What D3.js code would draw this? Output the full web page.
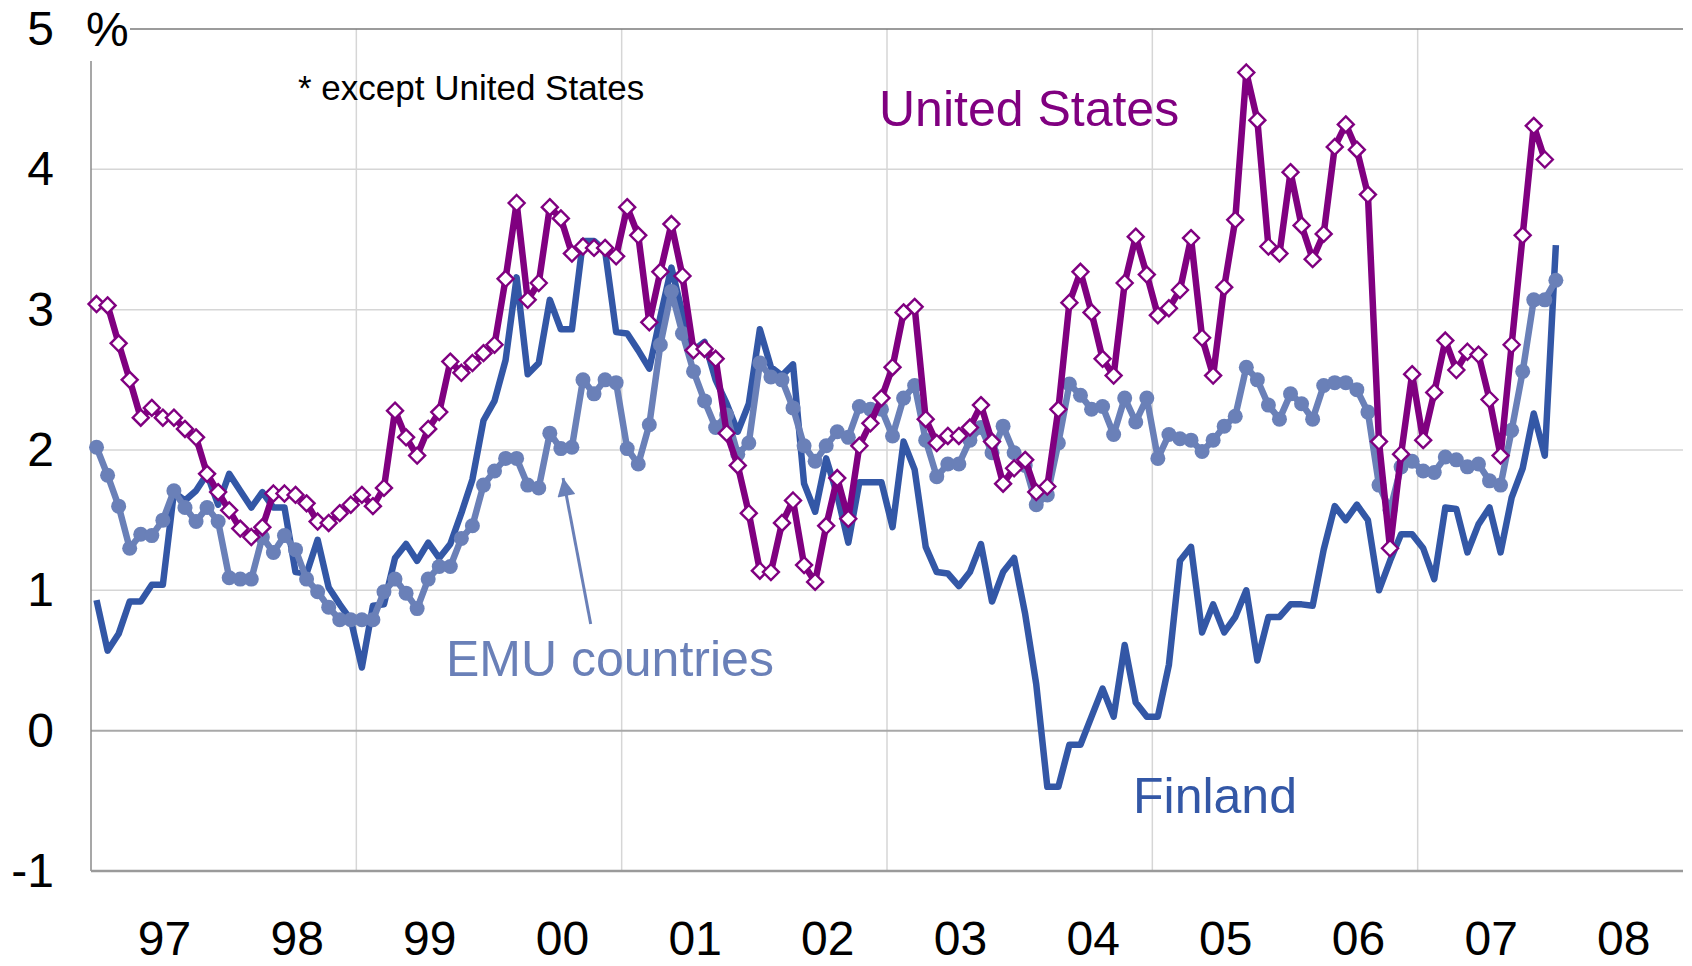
<!DOCTYPE html>
<html>
<head>
<meta charset="utf-8">
<script src="https://cdn.jsdelivr.net/npm/d3@7"></script>
<style>
  html, body { margin: 0; padding: 0; background: #fff; }
  svg { display: block; font-family: "Liberation Sans", Arial, sans-serif; }
</style>
</head>
<body>
<svg id="chart" width="1692" height="966"></svg>
<script>
// Monthly values, first one is January 1997
var yearLabels = ["97", "98", "99", "00", "01", "02", "03", "04", "05", "06", "07", "08"];
var yTicks = [-1, 0, 1, 2, 3, 4, 5];

var usValues = [
  3.04, 3.03, 2.76, 2.50, 2.23, 2.30, 2.23, 2.23, 2.15, 2.09, 1.83, 1.70,
  1.57, 1.44, 1.38, 1.45, 1.69, 1.69, 1.68, 1.62, 1.49, 1.48, 1.55, 1.61,
  1.68, 1.60, 1.73, 2.28, 2.09, 1.96, 2.15, 2.27, 2.63, 2.55, 2.62, 2.69,
  2.75, 3.22, 3.76, 3.07, 3.19, 3.73, 3.65, 3.40, 3.45, 3.44, 3.44, 3.38,
  3.73, 3.53, 2.91, 3.27, 3.61, 3.24, 2.71, 2.72, 2.65, 2.12, 1.89, 1.55,
  1.14, 1.13, 1.48, 1.64, 1.18, 1.06, 1.46, 1.80, 1.51, 2.03, 2.19, 2.37,
  2.59, 2.98, 3.02, 2.22, 2.05, 2.10, 2.10, 2.16, 2.32, 2.06, 1.76, 1.87,
  1.93, 1.70, 1.74, 2.29, 3.05, 3.27, 2.98, 2.65, 2.53, 3.19, 3.52, 3.25,
  2.96, 3.01, 3.14, 3.51, 2.80, 2.53, 3.16, 3.64, 4.69, 4.35, 3.45, 3.40,
  3.98, 3.60, 3.36, 3.54, 4.16, 4.32, 4.14, 3.82, 2.06, 1.30, 1.97, 2.54,
  2.07, 2.41, 2.78, 2.57, 2.70, 2.68, 2.36, 1.96, 2.75, 3.53, 4.31, 4.07
];

var emuValues = [
  2.02, 1.82, 1.60, 1.30, 1.40, 1.39, 1.50, 1.71, 1.59, 1.49, 1.59, 1.49,
  1.09, 1.08, 1.08, 1.38, 1.27, 1.39, 1.29, 1.08, 0.99, 0.88, 0.79, 0.79,
  0.79, 0.79, 0.99, 1.08, 0.98, 0.87, 1.08, 1.17, 1.17, 1.37, 1.46, 1.75,
  1.85, 1.94, 1.94, 1.75, 1.73, 2.12, 2.01, 2.02, 2.50, 2.40, 2.50, 2.48,
  2.01, 1.90, 2.18, 2.75, 3.13, 2.83, 2.56, 2.35, 2.16, 2.25, 1.97, 2.05,
  2.62, 2.52, 2.50, 2.30, 2.03, 1.92, 2.03, 2.13, 2.09, 2.31, 2.29, 2.29,
  2.10, 2.37, 2.46, 2.07, 1.81, 1.90, 1.90, 2.07, 2.16, 1.98, 2.17, 1.98,
  1.89, 1.61, 1.68, 2.05, 2.47, 2.39, 2.29, 2.31, 2.11, 2.37, 2.20, 2.37,
  1.94, 2.11, 2.08, 2.07, 1.99, 2.07, 2.17, 2.24, 2.59, 2.50, 2.32, 2.22,
  2.40, 2.33, 2.22, 2.46, 2.48, 2.48, 2.43, 2.27, 1.75, 1.57, 1.88, 1.92,
  1.85, 1.84, 1.95, 1.93, 1.88, 1.90, 1.78, 1.75, 2.14, 2.56, 3.07, 3.07,
  3.21
];

var finlandValues = [
  0.93, 0.57, 0.69, 0.92, 0.92, 1.04, 1.04, 1.70, 1.64, 1.71, 1.83, 1.61,
  1.83, 1.71, 1.59, 1.70, 1.59, 1.59, 1.13, 1.12, 1.36, 1.02, 0.90, 0.79,
  0.45, 0.89, 0.90, 1.23, 1.33, 1.21, 1.34, 1.23, 1.33, 1.55, 1.79, 2.21,
  2.35, 2.64, 3.23, 2.54, 2.62, 3.07, 2.86, 2.86, 3.49, 3.49, 3.42, 2.84,
  2.83, 2.71, 2.58, 2.95, 3.30, 2.97, 2.71, 2.77, 2.50, 2.33, 2.13, 2.33,
  2.86, 2.59, 2.53, 2.61, 1.76, 1.56, 1.94, 1.68, 1.34, 1.77, 1.77, 1.77,
  1.45, 2.06, 1.86, 1.31, 1.13, 1.12, 1.03, 1.13, 1.33, 0.92, 1.13, 1.23,
  0.83, 0.33, -0.40, -0.40, -0.10, -0.10, 0.10, 0.30, 0.10, 0.61, 0.20, 0.10,
  0.10, 0.47, 1.21, 1.31, 0.70, 0.90, 0.70, 0.81, 1.00, 0.50, 0.81, 0.81,
  0.90, 0.90, 0.89, 1.29, 1.60, 1.50, 1.61, 1.50, 1.00, 1.21, 1.40, 1.40,
  1.30, 1.08, 1.59, 1.58, 1.27, 1.47, 1.59, 1.27, 1.66, 1.87, 2.26, 1.96,
  3.46
];

var colors = { us: "#800080", emu: "#6a80b8", finland: "#3357a6" };

var svg = d3.select("#chart");
// note: "top" is taken by window.top, so plotTop etc.
var plotLeft = 91, plotRight = 1683, plotTop = 29, plotBottom = 871;

// months since Jan 1997
var x = d3.scaleLinear().domain([0, 144]).range([plotLeft, plotRight]);
var y = d3.scaleLinear().domain([-1, 5]).range([plotBottom, plotTop]);

// grid
svg.append("g").selectAll("line")
  .data([1, 2, 3, 4])
  .enter().append("line")
    .attr("x1", plotLeft).attr("x2", plotRight)
    .attr("y1", function(d) { return y(d); })
    .attr("y2", function(d) { return y(d); })
    .style("stroke", "#d6d6d6").style("stroke-width", 1.5);

svg.append("g").selectAll("line")
  .data([24, 48, 72, 96, 120])
  .enter().append("line")
    .attr("x1", function(d) { return x(d); })
    .attr("x2", function(d) { return x(d); })
    .attr("y1", y(5)).attr("y2", y(-1))
    .style("stroke", "#d6d6d6").style("stroke-width", 1.5);

svg.append("line")
  .attr("x1", plotLeft).attr("x2", plotRight).attr("y1", y(0)).attr("y2", y(0))
  .style("stroke", "#a8a8a8").style("stroke-width", 2);

// frame
svg.append("line")
  .attr("x1", 130).attr("x2", plotRight).attr("y1", y(5)).attr("y2", y(5))
  .style("stroke", "#7a7a7a").style("stroke-width", 1.5);
svg.append("line")
  .attr("x1", plotLeft).attr("x2", plotLeft).attr("y1", 61).attr("y2", plotBottom)
  .style("stroke", "#8a8a8a").style("stroke-width", 1.5);
svg.append("line")
  .attr("x1", plotLeft).attr("x2", plotRight).attr("y1", plotBottom).attr("y2", plotBottom)
  .style("stroke", "#9a9a9a").style("stroke-width", 2.5);

// axes (labels only)
var yAxis = svg.append("g")
  .attr("transform", "translate(54,0)")
  .call(d3.axisLeft(y).tickValues(yTicks).tickSize(0).tickPadding(0)
    .tickFormat(function(d) { return d; }));
var xAxis = svg.append("g")
  .attr("transform", "translate(0," + plotBottom + ")")
  .call(d3.axisBottom(x).tickValues(yearLabels.map(function(d, i) { return i * 12 + 6.6; }))
    .tickSize(0).tickPadding(0)
    .tickFormat(function(d, i) { return yearLabels[i]; }));

[yAxis, xAxis].forEach(function(g) {
  g.select(".domain").remove();
  g.selectAll("text")
    .style("font-family", '"Liberation Sans", Arial, sans-serif')
    .style("font-size", "48px")
    .style("fill", "#000");
});
xAxis.selectAll("text").attr("dy", null).attr("y", 84);

svg.append("text")
  .attr("x", 86).attr("y", y(5)).attr("dy", "0.35em")
  .style("font-size", "48px").text("%");

// series
function lineFor(values) {
  return d3.line()
    .x(function(d, i) { return x(i + 0.5); })
    .y(function(d) { return y(d); })(values);
}

svg.append("path")
  .attr("d", lineFor(finlandValues))
  .style("fill", "none").style("stroke", colors.finland)
  .style("stroke-width", 6.5).style("stroke-linejoin", "round");

svg.append("path")
  .attr("d", lineFor(emuValues))
  .style("fill", "none").style("stroke", colors.emu)
  .style("stroke-width", 6.5).style("stroke-linejoin", "round");
svg.append("g").selectAll("circle")
  .data(emuValues)
  .enter().append("circle")
    .attr("cx", function(d, i) { return x(i + 0.5); })
    .attr("cy", function(d) { return y(d); })
    .attr("r", 7.5)
    .style("fill", colors.emu);

svg.append("path")
  .attr("d", lineFor(usValues))
  .style("fill", "none").style("stroke", colors.us)
  .style("stroke-width", 6.5).style("stroke-linejoin", "round");
svg.append("g").selectAll("path")
  .data(usValues)
  .enter().append("path")
    .attr("transform", function(d, i) { return "translate(" + x(i + 0.5) + "," + y(d) + ")"; })
    .attr("d", "M0,-8L8,0L0,8L-8,0Z")
    .style("fill", "#fff").style("stroke", colors.us).style("stroke-width", 2.4);

// labels
svg.append("text").attr("x", 298).attr("y", 100)
  .style("font-size", "35px").text("* except United States");
svg.append("text").attr("x", 879).attr("y", 126)
  .style("font-size", "50px").style("fill", colors.us).text("United States");
svg.append("text").attr("x", 446).attr("y", 676)
  .style("font-size", "50px").style("fill", colors.emu).text("EMU countries");
svg.append("text").attr("x", 1133).attr("y", 813)
  .style("font-size", "50px").style("fill", colors.finland).text("Finland");

// arrow from the EMU label to its line
svg.append("defs").append("marker")
  .attr("id", "head")
  .attr("viewBox", "0 0 10 10")
  .attr("refX", 10).attr("refY", 5)
  .attr("markerWidth", 7).attr("markerHeight", 6)
  .attr("markerUnits", "strokeWidth")
  .attr("orient", "auto")
  .append("path").attr("d", "M0,0L10,5L0,10Z").style("fill", colors.emu);

svg.append("line")
  .attr("x1", x(45.2)).attr("y1", y(0.76))
  .attr("x2", x(42.7)).attr("y2", y(1.80))
  .style("stroke", colors.emu).style("stroke-width", 3)
  .attr("marker-end", "url(#head)");
</script>
</body>
</html>
